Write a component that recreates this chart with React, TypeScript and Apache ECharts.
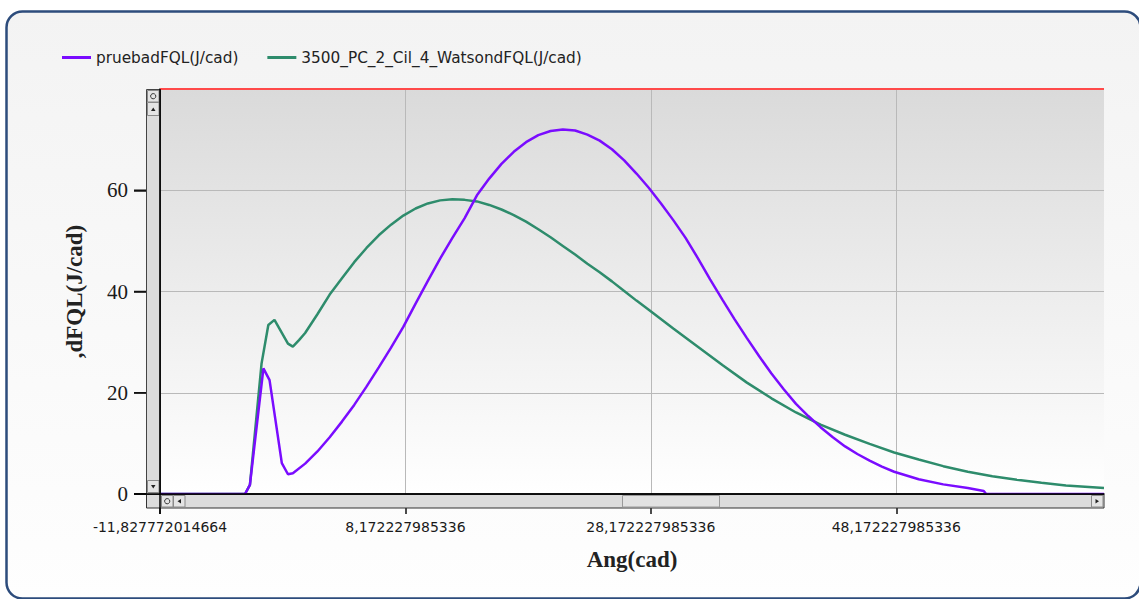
import React, { useEffect, useRef } from "react";
import * as echarts from "echarts";

const X_MIN = -11.827772014664;
const X_MAX = 65.1;
const Y_MAX = 80;
const X_STEP = 20;
const Y_STEP = 20;

const seriesNames = ["pruebadFQL(J/cad)", "3500_PC_2_Cil_4_WatsondFQL(J/cad)"];
const xAxisName = "Ang(cad)";
const yAxisName = ",dFQL(J/cad)";

const purpleAngles = [
  X_MIN, -4.9, -4.5, -3.4, -2.9, -1.9, -1.4, -1.0, 0, 1, 2, 3, 4, 5, 6, 7, 8, 9, 10,
  11, 12, 13, 14, 15, 16, 17, 18, 19, 20, 21, 22, 23, 24, 25, 26, 27, 28, 29, 30,
  31, 32, 33, 34, 35, 36, 37, 38, 39, 40, 41, 42, 43, 44, 45, 46, 47, 48, 50, 52,
  54, 55.3, 55.5, X_MAX,
];
const purpleValues = [
  0, 0, 1.8, 24.8, 22.5, 6.1, 3.9, 4.1, 6.0, 8.4, 11.2, 14.3, 17.6, 21.2, 25.0, 28.9, 33.0, 37.6, 42.1,
  46.5, 50.6, 54.5, 59.0, 62.3, 65.2, 67.6, 69.5, 70.9, 71.7, 72.0, 71.8, 71.0, 69.8, 68.1, 65.9, 63.3, 60.5, 57.4, 54.1,
  50.6, 46.6, 42.4, 38.4, 34.5, 30.8, 27.2, 23.8, 20.7, 17.8, 15.4, 13.2, 11.2, 9.4, 7.9, 6.6, 5.4, 4.4, 2.9, 1.9,
  1.2, 0.6, 0, 0,
];

const greenAngles = [
  X_MIN, -4.9, -4.5, -3.55, -3.0, -2.5, -1.4, -1.0, -0.5, 0, 1, 2, 3, 4, 5, 6, 7, 8, 9, 10,
  11, 12, 13, 14, 15, 16, 17, 18, 19, 20, 21, 22, 23, 24, 25, 26, 27, 28, 30, 32,
  34, 36, 38, 40, 42, 44, 46, 48, 50, 52, 54, 56, 58, 60, 62, X_MAX,
];
const greenValues = [
  0, 0, 1.8, 25.8, 33.4, 34.4, 29.7, 29.1, 30.4, 31.8, 35.5, 39.4, 42.6, 45.8, 48.6, 51.1, 53.2, 55.0, 56.4, 57.4,
  58.0, 58.2, 58.1, 57.8, 57.1, 56.2, 55.1, 53.8, 52.3, 50.7, 49.0, 47.3, 45.5, 43.8, 42.0, 40.1, 38.2, 36.4, 32.7, 29.1,
  25.5, 22.0, 18.9, 16.1, 13.7, 11.7, 9.9, 8.2, 6.8, 5.5, 4.4, 3.5, 2.8, 2.2, 1.7, 1.2,
];

const yTickValues = [0, 20, 40, 60];
const xTickValues = [0, 20, 40, 60]; // offsets from X_MIN

const PURPLE = "#7a0cff";
const GREEN = "#2e8c6c";

function fmtX(v: number): string {
  return (v + X_MIN).toFixed(12).replace(".", ",");
}

export default function App() {
  const ref = useRef<HTMLDivElement>(null);
  useEffect(() => {
    if (!ref.current) return;
    const chart = echarts.init(ref.current, null, { renderer: "svg" });
    const purpleData = purpleAngles.map((a, i) => [a - X_MIN, purpleValues[i]]);
    const greenData = greenAngles.map((a, i) => [a - X_MIN, greenValues[i]]);
    const xr = X_MAX - X_MIN;

    const btn = (x: number, y: number, w: number, h: number) => ({
      type: "rect",
      shape: { x, y, width: w, height: h },
      style: { fill: "#e4e4e4", stroke: "#8a8a8a", lineWidth: 1 },
      z: 60,
    });
    const tri = (pts: number[][]) => ({
      type: "polygon",
      shape: { points: pts },
      style: { fill: "#222" },
      z: 61,
    });
    const circ = (cx: number, cy: number) => ({
      type: "circle",
      shape: { cx, cy, r: 2.6 },
      style: { fill: "none", stroke: "#333", lineWidth: 1 },
      z: 61,
    });

    chart.setOption({
      animation: false,
      backgroundColor: "transparent",
      graphic: [
        {
          type: "rect",
          shape: { x: 6.5, y: 11.5, width: 1134, height: 587, r: 16 },
          style: {
            fill: new echarts.graphic.LinearGradient(0, 0, 0, 1, [
              { offset: 0, color: "#f3f3f3" },
              { offset: 1, color: "#fefefe" },
            ]),
            stroke: "#2d4c7c",
            lineWidth: 2.5,
          },
          z: -100,
        },
        {
          type: "rect",
          shape: { x: 146.5, y: 89.5, width: 13.5, height: 405 },
          style: { fill: "#dcdcdc", stroke: "#444", lineWidth: 1 },
          z: 55,
        },
        btn(147.5, 90.5, 11.5, 11.5),
        circ(153.2, 96.2),
        btn(147.5, 102.5, 11.5, 13),
        tri([[151, 111], [155.5, 111], [153.25, 107.5]]),
        btn(147.5, 480.5, 11.5, 12),
        tri([[151, 485], [155.5, 485], [153.25, 488.5]]),
        {
          type: "rect",
          shape: { x: 146.5, y: 494.5, width: 957.5, height: 13.5 },
          style: { fill: "#dcdcdc", stroke: "#333", lineWidth: 1 },
          z: 55,
        },
        btn(161.5, 495.5, 11.5, 11.5),
        circ(167.2, 501.2),
        btn(173.5, 495.5, 11.5, 11.5),
        tri([[181, 499], [181, 503.5], [177.5, 501.25]]),
        {
          type: "rect",
          shape: { x: 622.5, y: 495.5, width: 97, height: 11.5 },
          style: { fill: "#e2e2e2", stroke: "#9a9a9a", lineWidth: 1 },
          z: 58,
        },
        btn(1091.5, 495.5, 11.5, 11.5),
        tri([[1095.5, 499], [1095.5, 503.5], [1099, 501.25]]),
        {
          type: "line",
          shape: { x1: 160, y1: 89, x2: 160, y2: 514 },
          style: { stroke: "#000", lineWidth: 1.5 },
          z: 70,
        },
        {
          type: "line",
          shape: { x1: 134, y1: 494, x2: 1104, y2: 494 },
          style: { stroke: "#000", lineWidth: 1.5 },
          z: 70,
        },
      ],
      legend: {
        left: 57,
        top: 45,
        icon: "rect",
        itemWidth: 29,
        itemHeight: 3,
        itemGap: 29,
        textStyle: { fontFamily: "DejaVu Sans", fontSize: 15.3, color: "#222" },
        data: seriesNames,
      },
      grid: {
        left: 160,
        top: 89,
        right: 35,
        bottom: 105,
        show: true,
        borderWidth: 0,
        backgroundColor: new echarts.graphic.LinearGradient(0, 0, 0, 1, [
          { offset: 0, color: "#dadada" },
          { offset: 1, color: "#ffffff" },
        ]),
      },
      xAxis: {
        type: "value",
        min: 0,
        max: xr,
        interval: X_STEP,
        position: "bottom",
        axisLine: { show: true, lineStyle: { color: "#000", width: 1.5 } },
        axisTick: {
          show: true,
          inside: false,
          length: 20,
          lineStyle: { color: "#111", width: 1.5 },
          customValues: xTickValues,
        },
        axisLabel: {
          show: true,
          margin: 26,
          customValues: xTickValues,
          formatter: (v: number) => fmtX(v),
          fontFamily: "DejaVu Sans",
          fontSize: 14,
          color: "#1a1a1a",
        },
        splitLine: { show: true, lineStyle: { color: "#b9b9b9", width: 1 } },
        name: xAxisName,
        nameLocation: "middle",
        nameGap: 54,
        nameTextStyle: {
          fontFamily: "Liberation Serif",
          fontWeight: "bold",
          fontSize: 23,
          color: "#222",
        },
      },
      yAxis: {
        type: "value",
        min: 0,
        max: Y_MAX,
        interval: Y_STEP,
        position: "left",
        axisLine: { show: true, lineStyle: { color: "#000", width: 1.5 } },
        axisTick: {
          show: true,
          inside: false,
          length: 26,
          lineStyle: { color: "#111", width: 1.5 },
          customValues: yTickValues,
        },
        axisLabel: {
          show: true,
          margin: 14,
          customValues: yTickValues,
          formatter: (v: number) => `{v|${v}}{g|}{t|}`,
          rich: {
            v: { fontFamily: "Liberation Serif", fontSize: 21, color: "#1a1a1a" },
            g: { width: 6, height: 2 },
            t: { width: 12, height: 1.5, backgroundColor: "#111" },
          },
        },
        splitLine: { show: true, lineStyle: { color: "#b9b9b9", width: 1 } },
        name: yAxisName,
        nameLocation: "middle",
        nameGap: 74,
        nameRotate: 90,
        nameTextStyle: {
          fontFamily: "Liberation Serif",
          fontWeight: "bold",
          fontSize: 23,
          color: "#222",
        },
      },
      series: [
        {
          name: seriesNames[0],
          type: "line",
          data: purpleData,
          showSymbol: false,
          symbol: "none",
          color: PURPLE,
          itemStyle: { color: PURPLE },
          lineStyle: { color: PURPLE, width: 2.5 },
          z: 10,
          markLine: {
            silent: true,
            symbol: "none",
            label: { show: false },
            lineStyle: { color: "#ff4a4a", width: 2, type: "solid" },
            data: [{ yAxis: Y_MAX }],
          },
        },
        {
          name: seriesNames[1],
          type: "line",
          data: greenData,
          showSymbol: false,
          symbol: "none",
          color: GREEN,
          itemStyle: { color: GREEN },
          lineStyle: { color: GREEN, width: 2.5 },
          z: 9,
        },
      ],
    });
    return () => chart.dispose();
  }, []);
  return (
    <div
      ref={ref}
      style={{ position: "absolute", left: 0, top: 0, width: 1139, height: 599 }}
    />
  );
}
